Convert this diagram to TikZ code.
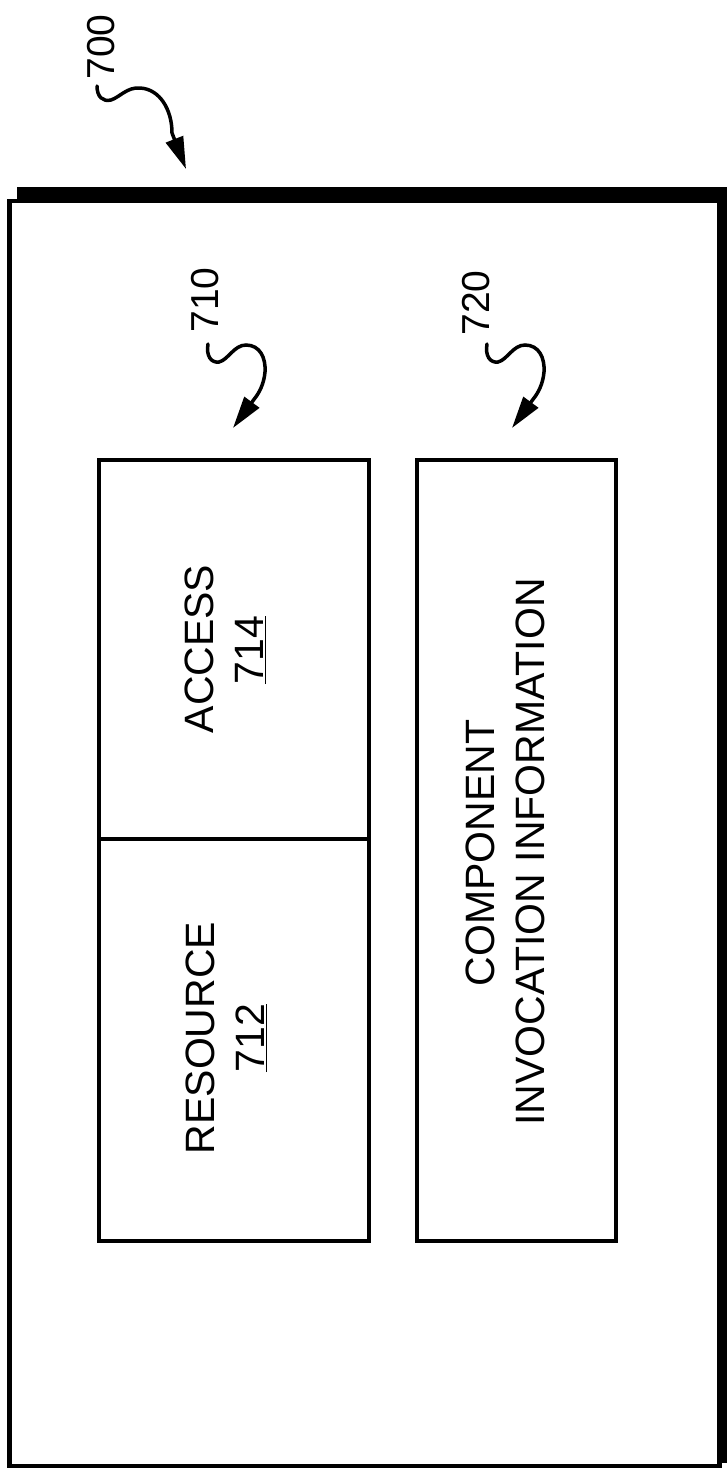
\documentclass[tikz,border=0pt]{standalone}
\usepackage{fontspec}
\setmainfont{Liberation Sans}
\usetikzlibrary{arrows.meta}
\begin{document}
\begin{tikzpicture}[x=0.5pt,y=-0.5pt,
  blk/.style={draw=black,line width=2pt,inner sep=0pt,outer sep=0pt},
  txt/.style={rotate=90,anchor=base,font=\fontsize{20.5pt}{24.5pt}\selectfont,inner sep=0pt},
  lbl/.style={rotate=90,anchor=base,font=\fontsize{19.5pt}{23pt}\selectfont,inner sep=0pt},
  leader/.style={line width=1.75pt,line cap=round,-{Triangle[length=16pt,width=9pt]}}]
\useasboundingbox (0,0) rectangle (727,1468);
% outer frame with heavy top and right edges
\draw[line width=2.25pt] (9.5,201) rectangle (719.5,1466);
\fill (17,187) rectangle (727,203);
\fill (717,187) rectangle (727,1463);
% boxes
\node[blk, minimum width=135pt, minimum height=189.5pt] (access) at (233.5,649.5) {};
\node[blk, minimum width=135pt, minimum height=200.75pt] (resource) at (233.5,1039.75) {};
\node[blk, minimum width=99.5pt, minimum height=390.25pt] (info) at (516.5,850.25) {};
% texts
\node[txt] (accessT) at (213,649) {ACCESS};
\node[txt] (accessN) at (263,650) {\underline{714}};
\node[txt] (resourceT) at (214,1038) {RESOURCE};
\node[txt] (resourceN) at (264,1038) {\underline{712}};
\node[txt] (infoA) at (494,853) {COMPONENT};
\node[txt] (infoB) at (544,852) {INVOCATION INFORMATION};
% reference labels
\node[lbl] (l700) at (114,47) {700};
\node[lbl] (l710) at (218,300) {710};
\node[lbl] (l720) at (489,303) {720};
% leaders
\coordinate (s700) at (97,86);
\coordinate (t700) at (186,169);
\coordinate (s710) at (208,344);
\coordinate (t710) at (233,428);
\coordinate (s720) at (487,344);
\coordinate (t720) at (512,428);
\draw[leader] (s700) .. controls (97,97) and (103,102) .. (111,100)
  .. controls (120,97) and (127,87) .. (140,88)
  .. controls (160,89) and (172,110) .. (172,133) -- (t700);
\draw[leader] (s710) .. controls (206,356) and (211,363) .. (219,362)
  .. controls (228,360) and (234,345) .. (246,345)
  .. controls (260,345) and (266,358) .. (265,372)
  .. controls (264,384) and (259,393) .. (255,398) -- (t710);
\draw[leader] (s720) .. controls (485,356) and (490,363) .. (498,362)
  .. controls (507,360) and (513,345) .. (525,345)
  .. controls (539,345) and (545,358) .. (544,372)
  .. controls (543,384) and (538,393) .. (534,398) -- (t720);
\end{tikzpicture}
\end{document}
